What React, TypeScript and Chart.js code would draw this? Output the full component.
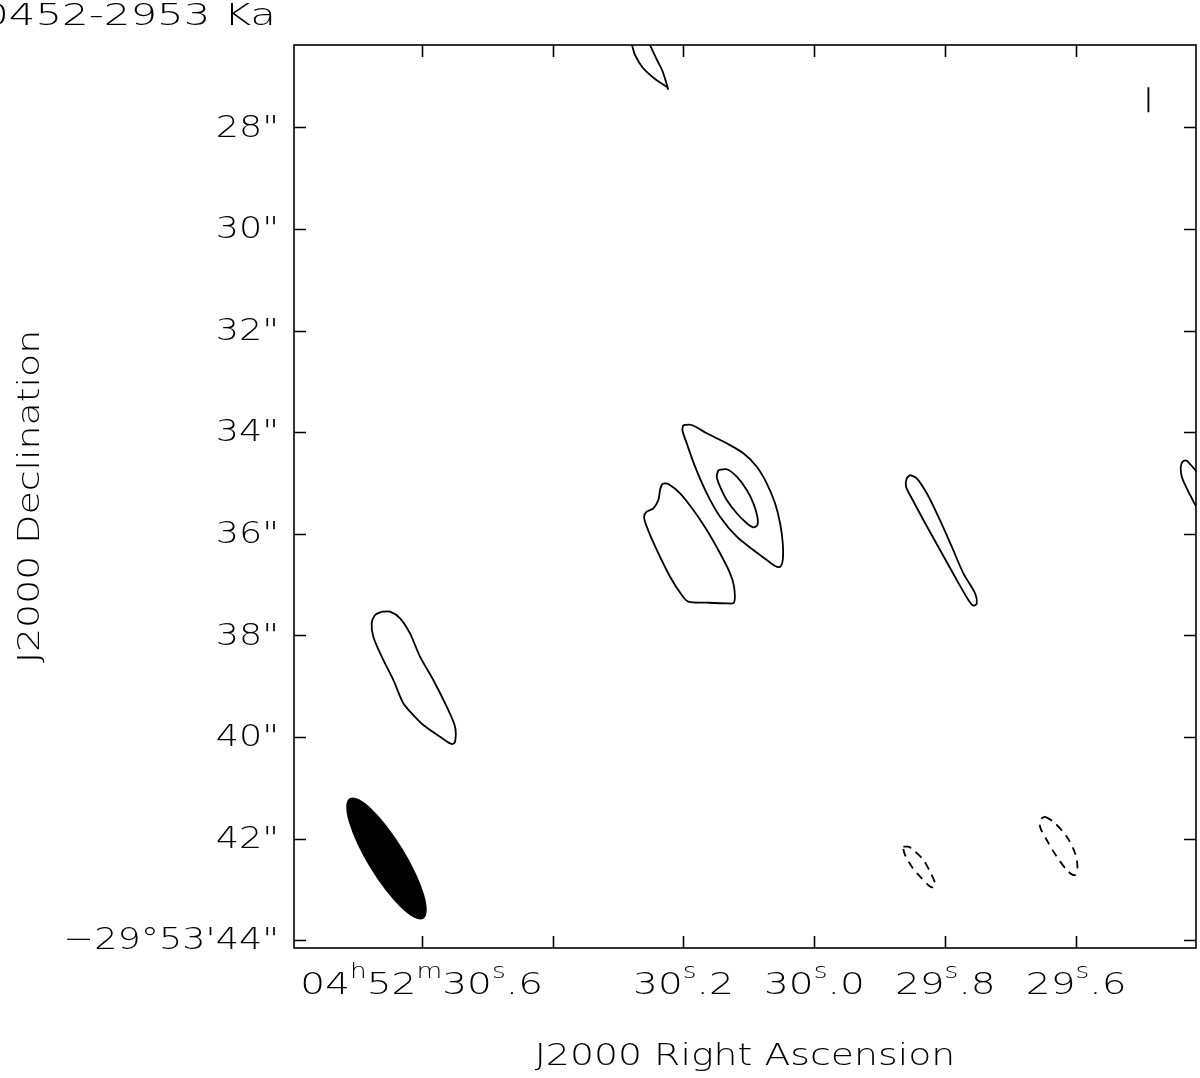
import React, { useEffect, useRef } from "react";
import { Chart, registerables } from "chart.js";

Chart.register(...registerables);

// ---- text ----
const TITLE = "0452-2953 Ka";
const X_TITLE = "J2000 Right Ascension";
const Y_TITLE = "J2000 Declination";

// ---- axes (RA in seconds of time past 04h52m, Dec in arcsec below -29°53') ----
const RA_MIN = 29.417;
const RA_MAX = 30.795;
const DEC_MIN = 26.376;
const DEC_MAX = 44.152;
const X_TICK_VALUES = [30.6, 30.4, 30.2, 30.0, 29.8, 29.6];
const X_TICK_LABELS = ["04h52m30s.6", "", "30s.2", "30s.0", "29s.8", "29s.6"];
const Y_TICK_VALUES = [28, 30, 32, 34, 36, 38, 40, 42, 44];
const Y_TICK_LABELS = ['28"', '30"', '32"', '34"', '36"', '38"', '40"', '42"', "\u221229\u00b053'44\""];

// ---- contours ----
const topArcRa = [30.2816, 30.2786, 30.274, 30.2618, 30.2434, 30.2251, 30.2236, 30.2266, 30.2327, 30.2404, 30.2511, 30.2541];
const topArcDec = [26.238, 26.376, 26.573, 26.829, 27.045, 27.203, 27.242, 27.104, 26.868, 26.671, 26.376, 26.238];

const coreOuterRa = [30.2002, 30.1874, 30.1644, 30.1339, 30.1085, 30.088, 30.0728, 30.0601, 30.0524, 30.0483, 30.0483, 30.0524, 30.0601, 30.0728, 30.0932, 30.1186, 30.1441, 30.1644, 30.1823, 30.195, 30.2017, 30.2002];
const coreOuterDec = [33.856, 33.856, 34.02, 34.217, 34.413, 34.677, 35.004, 35.398, 35.791, 36.185, 36.514, 36.646, 36.632, 36.514, 36.317, 36.055, 35.661, 35.201, 34.677, 34.217, 33.955, 33.856];

const coreInnerRa = [30.1467, 30.1339, 30.1186, 30.1033, 30.0932, 30.0871, 30.0871, 30.0932, 30.1033, 30.1186, 30.1339, 30.1441, 30.1492, 30.1467];
const coreInnerDec = [34.742, 34.728, 34.874, 35.136, 35.398, 35.661, 35.825, 35.87, 35.791, 35.594, 35.333, 35.071, 34.874, 34.742];

const westLobeRa = [30.2307, 30.2231, 30.2052, 30.1849, 30.1644, 30.1441, 30.1288, 30.1227, 30.1227, 30.1339, 30.1644, 30.1925, 30.2026, 30.2205, 30.2408, 30.2561, 30.2602, 30.2561, 30.246, 30.2384, 30.2358, 30.2332, 30.2307];
const westLobeDec = [35.004, 35.018, 35.201, 35.53, 35.923, 36.382, 36.776, 37.039, 37.354, 37.366, 37.354, 37.335, 37.203, 36.843, 36.317, 35.858, 35.661, 35.563, 35.496, 35.333, 35.136, 35.038, 35.004];

const eastKnotRa = [29.8538, 29.8436, 29.8283, 29.8106, 29.7901, 29.7724, 29.7545, 29.7519, 29.7571, 29.7647, 29.7825, 29.808, 29.8335, 29.8512, 29.8599, 29.8589, 29.8538];
const eastKnotDec = [34.841, 34.906, 35.201, 35.661, 36.252, 36.776, 37.169, 37.366, 37.413, 37.301, 36.908, 36.317, 35.726, 35.299, 35.071, 34.906, 34.841];

const leftKnotRa = [30.661, 30.6483, 30.633, 30.6178, 30.6025, 30.5822, 30.5617, 30.549, 30.549, 30.5541, 30.5719, 30.5974, 30.6152, 30.628, 30.6433, 30.661, 30.6738, 30.6763, 30.6712, 30.661];
const leftKnotDec = [37.532, 37.532, 37.661, 37.957, 38.417, 38.876, 39.402, 39.795, 40.091, 40.136, 39.992, 39.762, 39.532, 39.335, 38.876, 38.417, 38.024, 37.76, 37.597, 37.532];

const edgeArcRa = [29.4031, 29.4168, 29.4311, 29.4372, 29.4402, 29.4387, 29.4311, 29.4234, 29.4168, 29.4031];
const edgeArcDec = [34.841, 34.756, 34.559, 34.579, 34.677, 34.874, 35.102, 35.299, 35.451, 35.569];

const negSmallRa = [29.864, 29.8564, 29.8488, 29.8335, 29.8233, 29.8156, 29.8182, 29.8243, 29.8385, 29.8512, 29.8615, 29.864, 29.864];
const negSmallDec = [42.158, 42.158, 42.222, 42.419, 42.65, 42.878, 42.957, 42.931, 42.748, 42.551, 42.321, 42.209, 42.158];

const negLargeRa = [29.6476, 29.6349, 29.6144, 29.6017, 29.5982, 29.6017, 29.612, 29.6297, 29.645, 29.6552, 29.6526, 29.6476];
const negLargeDec = [41.567, 41.665, 41.961, 42.287, 42.551, 42.715, 42.65, 42.354, 42.026, 41.764, 41.598, 41.567];

const markRa = [29.4897, 29.4897];
const markDec = [27.209, 27.701];

// ---- restoring beam ----
const BEAM_RA = 30.6537;
const BEAM_DEC = 42.39;
const BEAM_MAJOR = 2.78; // arcsec
const BEAM_MINOR = 0.74; // arcsec
const BEAM_PA = 31.5; // deg, N through E

const FONT = '"DejaVu Sans", sans-serif';
const WEIGHT = "200";

function fontOf(size: number) {
  return `${WEIGHT} ${size}px ${FONT}`;
}

function drawRich(
  ctx: CanvasRenderingContext2D,
  text: string,
  x: number,
  y: number,
  size: number,
  align: "center" | "right" | "left",
  rich: boolean,
  stretch: number
) {
  const segs: { t: string; sup: boolean }[] = [];
  for (const ch of text) {
    const sup = rich && "hms".includes(ch);
    const last = segs[segs.length - 1];
    if (last && last.sup === sup) last.t += ch;
    else segs.push({ t: ch, sup });
  }
  const supSize = Math.round(size * 0.68);
  let total = 0;
  const widths = segs.map((s) => {
    ctx.font = fontOf(s.sup ? supSize : size);
    const w = ctx.measureText(s.t).width;
    total += w;
    return w;
  });
  const totalPx = total * stretch;
  const start = align === "center" ? x - totalPx / 2 : align === "right" ? x - totalPx : x;
  ctx.save();
  ctx.translate(start, y);
  ctx.scale(stretch, 1);
  ctx.textAlign = "left";
  ctx.textBaseline = "middle";
  let cx = 0;
  segs.forEach((s, i) => {
    ctx.font = fontOf(s.sup ? supSize : size);
    ctx.fillText(s.t, cx, s.sup ? -size * 0.42 : 0);
    cx += widths[i];
  });
  ctx.restore();
}

const framePlugin = {
  id: "frame",
  afterDraw(chart: any) {
    const { ctx, chartArea: a, scales } = chart;
    const xs = scales.x;
    const ys = scales.y;
    ctx.save();
    // beam
    const cx = xs.getPixelForValue(BEAM_RA);
    const cy = ys.getPixelForValue(BEAM_DEC);
    const pxPerArcsec = Math.abs(ys.getPixelForValue(BEAM_DEC + 1) - cy);
    ctx.beginPath();
    ctx.ellipse(cx, cy, (BEAM_MAJOR / 2) * pxPerArcsec, (BEAM_MINOR / 2) * pxPerArcsec, ((90 - BEAM_PA) * Math.PI) / 180, 0, Math.PI * 2);
    ctx.fillStyle = "#000";
    ctx.fill();

    // frame + ticks
    ctx.strokeStyle = "#000";
    ctx.lineWidth = 1.6;
    ctx.strokeRect(a.left, a.top, a.right - a.left, a.bottom - a.top);
    const T = 12;
    ctx.beginPath();
    X_TICK_VALUES.forEach((v) => {
      const px = Math.round(xs.getPixelForValue(v)) + 0.5;
      ctx.moveTo(px, a.bottom);
      ctx.lineTo(px, a.bottom - T);
      ctx.moveTo(px, a.top);
      ctx.lineTo(px, a.top + T);
    });
    Y_TICK_VALUES.forEach((v) => {
      const py = Math.round(ys.getPixelForValue(v)) + 0.5;
      ctx.moveTo(a.left, py);
      ctx.lineTo(a.left + T, py);
      ctx.moveTo(a.right, py);
      ctx.lineTo(a.right - T, py);
    });
    ctx.stroke();

    // labels
    ctx.fillStyle = "#000";
    X_TICK_VALUES.forEach((v, i) => {
      if (!X_TICK_LABELS[i]) return;
      drawRich(ctx, X_TICK_LABELS[i], xs.getPixelForValue(v), 986, 31, "center", true, 1.26);
    });
    Y_TICK_VALUES.forEach((v, i) => {
      drawRich(ctx, Y_TICK_LABELS[i], 279, ys.getPixelForValue(v) + 1, 31, "right", false, 1.18);
    });
    drawRich(ctx, X_TITLE, (a.left + a.right) / 2, 1057, 31, "center", false, 1.22);
    ctx.save();
    ctx.translate(31, (a.top + a.bottom) / 2);
    ctx.rotate(-Math.PI / 2);
    drawRich(ctx, Y_TITLE, 0, 0, 31, "center", false, 1.22);
    ctx.restore();
    drawRich(ctx, TITLE, 276, 17, 31, "right", false, 1.35);
    ctx.restore();
  },
};

function series(ra: number[], dec: number[], dashed = false) {
  return {
    data: ra.map((r, i) => ({ x: r, y: dec[i] })),
    showLine: true,
    pointRadius: 0,
    borderColor: "#000",
    borderWidth: 1.8,
    tension: 0.3,
    fill: false,
    borderDash: dashed ? [8, 6] : [],
  };
}

export default function App() {
  const ref = useRef<HTMLCanvasElement | null>(null);
  useEffect(() => {
    if (!ref.current) return;
    const chart = new Chart(ref.current, {
      type: "scatter",
      data: {
        datasets: [
          series(topArcRa, topArcDec),
          series(coreOuterRa, coreOuterDec),
          series(coreInnerRa, coreInnerDec),
          series(westLobeRa, westLobeDec),
          series(eastKnotRa, eastKnotDec),
          series(leftKnotRa, leftKnotDec),
          series(edgeArcRa, edgeArcDec),
          series(negSmallRa, negSmallDec, true),
          series(negLargeRa, negLargeDec, true),
          { ...series(markRa, markDec), tension: 0 },
        ] as any,
      },
      options: {
        animation: false,
        responsive: false,
        devicePixelRatio: 1,
        layout: { padding: { top: 45, right: 4, left: 0, bottom: 0 } },
        plugins: { legend: { display: false }, tooltip: { enabled: false } },
        events: [],
        scales: {
          x: {
            type: "linear",
            reverse: true,
            min: RA_MIN,
            max: RA_MAX,
            grid: { display: false },
            border: { display: false },
            ticks: { display: false },
            afterBuildTicks: (s: any) => {
              s.ticks = X_TICK_VALUES.map((v) => ({ value: v }));
            },
            afterFit: (s: any) => {
              s.height = 130;
            },
          },
          y: {
            type: "linear",
            reverse: true,
            min: DEC_MIN,
            max: DEC_MAX,
            grid: { display: false },
            border: { display: false },
            ticks: { display: false },
            afterBuildTicks: (s: any) => {
              s.ticks = Y_TICK_VALUES.map((v) => ({ value: v }));
            },
            afterFit: (s: any) => {
              s.width = 294;
            },
          },
        },
      } as any,
      plugins: [framePlugin],
    });
    return () => chart.destroy();
  }, []);
  return (
    <div style={{ position: "fixed", left: 0, top: 0, width: 1200, height: 1078, background: "#fff" }}>
      <canvas ref={ref} width={1200} height={1078} style={{ display: "block" }} />
    </div>
  );
}
